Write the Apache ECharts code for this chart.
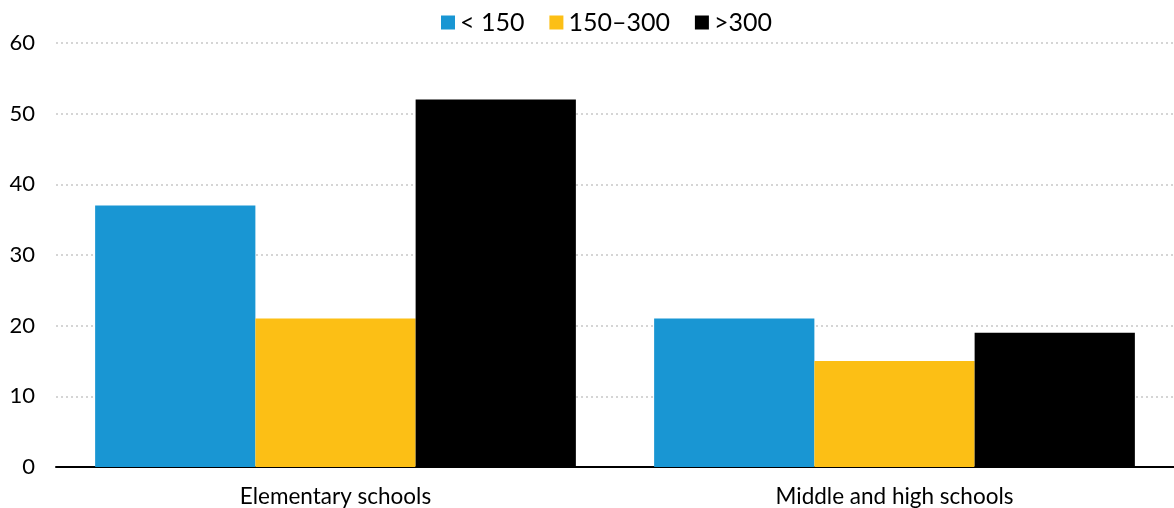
<!DOCTYPE html>
<html><head><meta charset="utf-8">
<script src="https://cdn.jsdelivr.net/npm/echarts@6/dist/echarts.min.js"></script>
<style>html,body{margin:0;padding:0;background:#fff}#c{width:1174px;height:508px}</style>
</head><body><div id="c"></div>
<script>
const categories = ['Elementary schools', 'Middle and high schools'];
const seriesNames = ['< 150', '150–300', '>300'];
const small = [37, 21];
const medium = [21, 15];
const large = [52, 19];
const colors = ['#1996d3', '#fcbf15', '#000000'];
const yTicks = [0, 10, 20, 30, 40, 50, 60];

const chart = echarts.init(document.getElementById('c'));
const vals = [small, medium, large];
chart.setOption({
  animation: false,
  textStyle: { fontFamily: 'Lato' },
  legend: {
    top: 5, left: 436,
    itemWidth: 14, itemHeight: 14, itemGap: 25,
    icon: 'rect',
    textStyle: { fontSize: 25, color: '#000', fontFamily: 'Lato' },
    data: seriesNames
  },
  grid: { left: 56, right: 0, top: 43, bottom: 41, containLabel: false },
  xAxis: {
    type: 'category', data: categories,
    axisLine: { lineStyle: { color: '#000', width: 2 } },
    axisTick: { show: false },
    axisLabel: { fontSize: 22.5, color: '#000', margin: 18, fontFamily: 'Lato' }
  },
  yAxis: {
    type: 'value', min: yTicks[0], max: yTicks[yTicks.length - 1], interval: 10,
    axisLine: { show: false }, axisTick: { show: false },
    axisLabel: { fontSize: 22, color: '#000', margin: 21, fontFamily: 'Lato' },
    splitLine: { lineStyle: { color: '#c8c8c8', type: [2, 3], width: 1.5 } }
  },
  series: seriesNames.map((n, i) => ({
    name: n, type: 'bar', data: vals[i],
    barGap: '0%', barCategoryGap: '14%',
    itemStyle: { color: colors[i] }
  }))
});
</script></body></html>
